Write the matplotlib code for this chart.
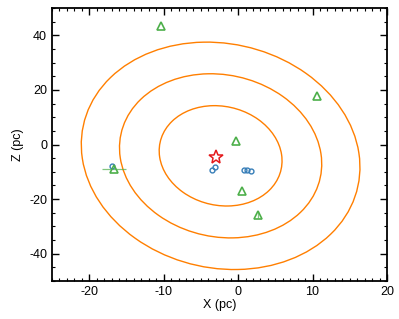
import matplotlib
matplotlib.use("Agg")
import matplotlib.pyplot as plt
import numpy as np
from matplotlib.patches import Ellipse
from matplotlib.ticker import MultipleLocator

plt.rcParams['font.family'] = ['Liberation Sans', 'DejaVu Sans']
plt.rcParams['axes.unicode_minus'] = False

# contour ellipses (data units)
ell_center = (-2.35, -4.15)
ell_semi_major = [18.4, 30.1, 41.7]
ell_semi_minor = [8.2, 13.5, 18.6]
ell_angle = 3.2

# star
star_x = [-3.0]
star_z = [-4.4]

# blue circles
circ_x = [-3.45, -3.05, 0.85, 1.25, 1.75, -16.9]
circ_z = [-9.2, -8.35, -9.4, -9.5, -9.8, -7.8]

# green triangles
tri_x = [-10.3, 10.6, -0.3, 0.5, 2.7, -16.7]
tri_z = [43.5, 17.7, 1.3, -17.1, -25.7, -8.8]
tri_xerr = [0.0, 0.0, 0.0, 0.0, 0.0, 1.6]
tri_zerr = [0.0, 0.0, 0.0, 0.0, 1.3, 0.0]

orange = '#ff7f00'
green = '#4daf4a'
blue = '#377eb8'
red = '#e41a1c'

fig = plt.figure(figsize=(3.99, 3.19), dpi=100)
ax = fig.add_axes([52/399, 1 - 281/319, 335/399, 273/319])

for a, b in zip(ell_semi_major, ell_semi_minor):
    e = Ellipse(ell_center, width=2*b, height=2*a, angle=ell_angle,
                fill=False, edgecolor=orange, lw=1.0, zorder=2)
    ax.add_patch(e)

ax.errorbar(tri_x, tri_z, xerr=tri_xerr, yerr=tri_zerr, fmt='none',
            ecolor=green, elinewidth=0.9, alpha=0.7, zorder=3)
ax.plot(circ_x, circ_z, 'o', mfc='none', mec=blue, ms=3.5, mew=1.0, zorder=4)
ax.plot(tri_x, tri_z, '^', mfc='none', mec=green, ms=5.5, mew=1.2, zorder=5)
ax.plot(star_x, star_z, '*', mfc='none', mec=red, ms=10, mew=1.1, zorder=6)

ax.set_xlim(-25, 20)
ax.set_ylim(-50, 50)
ax.xaxis.set_major_locator(MultipleLocator(10))
ax.xaxis.set_minor_locator(MultipleLocator(1))
ax.yaxis.set_major_locator(MultipleLocator(20))
ax.yaxis.set_minor_locator(MultipleLocator(5))
ax.tick_params(which='both', direction='in', top=True, right=True, labelsize=9)
ax.tick_params(which='major', length=5, width=1)
ax.tick_params(which='minor', length=2.5, width=0.8)
for s in ax.spines.values():
    s.set_linewidth(1.3)

ax.set_xlabel("X (pc)", fontsize=9, labelpad=1)
ax.set_ylabel("Z (pc)", fontsize=9, labelpad=4)

fig.savefig("out.png", dpi=100)
